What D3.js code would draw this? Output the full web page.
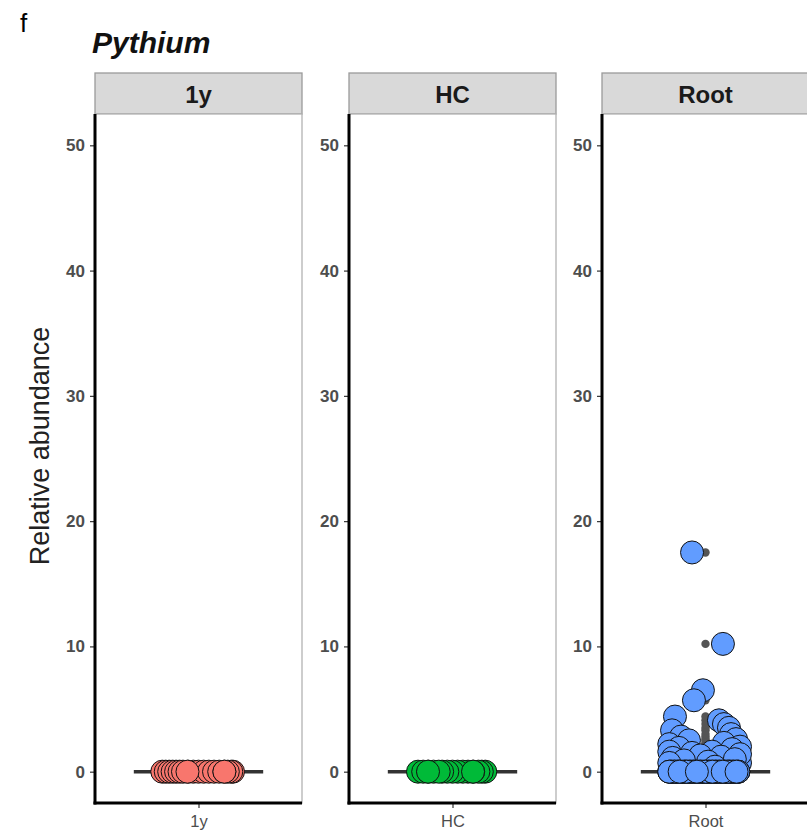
<!DOCTYPE html>
<html>
<head>
<meta charset="utf-8">
<script src="https://cdn.jsdelivr.net/npm/d3@7"></script>
<style>
  html, body { margin: 0; padding: 0; background: #fff; }
  svg { display: block; font-family: "Liberation Sans", Arial, sans-serif; }
</style>
</head>
<body>
<svg id="chart" width="807" height="831"></svg>
<script>
// Facet categories and their fill colours
const categories = ["1y", "HC", "Root"];
const fills = ["#F8766D", "#00BA38", "#619CFF"];

// Y axis ticks (relative abundance, %)
const yTicks = [0, 10, 20, 30, 40, 50];

// Relative abundance per sample, with its horizontal jitter (in category units)
const values1y = [0, 0, 0, 0, 0, 0, 0, 0, 0, 0, 0, 0, 0, 0, 0, 0, 0, 0, 0, 0];
const jitter1y = [-0.21, -0.19, -0.17, -0.15, -0.13, -0.11, -0.09, -0.06, -0.03, 0.0,
                  0.03, 0.06, 0.09, 0.12, 0.20, 0.19, 0.17, 0.15, -0.064, 0.15];

const valuesHC = [0, 0, 0, 0, 0, 0, 0, 0, 0, 0, 0, 0, 0, 0, 0, 0, 0];
const jitterHC = [0.19, 0.17, 0.15, 0.12, 0.09, 0.06, 0.03, 0.0, -0.03, -0.06,
                  -0.20, -0.17, -0.14, -0.11, -0.08, -0.142, 0.119];

const valuesRoot = [
  0.3, 0.2, 0.4, 0.7, 0.5, 0.3, 0.2, 0.6,
  0, 0, 0, 0, 0, 0, 0, 0, 0, 0, 0, 0, 0, 0, 0, 0, 0, 0, 0, 0,
  0, 0, 0, 0, 0, 0, 0, 0, 0, 0, 0, 0, 0, 0, 0, 0, 0, 0, 0, 0,
  0, 0, 0, 0, 0, 0, 0, 0, 0, 0, 0, 0, 0, 0, 0, 0, 0, 0, 0, 0,
  17.5, 10.2, 6.5, 5.7, 4.4, 4.1, 3.8, 3.5, 3.3, 3.0, 2.8, 2.6, 2.5, 2.3, 2.2,
  2.0, 1.9, 1.8, 1.6, 1.6, 1.5, 1.4, 1.3, 1.2, 1.1, 1.0, 0.9, 0.8, 0.7, 0.4,
  0, 0, 0, 0, 0, 0, 0, 0, 0, 0, 0, 0, 0, 0, 0, 0, 0, 0, 0, 0,
  0, 0, 0, 0, 0, 0, 0, 0, 0, 0, 0, 0, 0, 0, 0, 0, 0, 0, 0, 0,
  0, 0, 0, 0, 0, 0, 0, 0, 0, 0, 0, 0, 0, 0, 0, 0, 0, 0, 0, 0,
  0, 0, 0, 0
];
const jitterRoot = [
  0.19, -0.20, -0.17, 0.20, 0.125, -0.10, -0.02, -0.06,
  -0.20, -0.15, -0.10, -0.05, 0.00, 0.05, 0.10, 0.15, 0.19, -0.18, -0.12, -0.07, 0.02, 0.08, 0.13, 0.17, -0.02, -0.16, 0.06, 0.11,
  -0.21, -0.13, -0.04, 0.04, 0.14, 0.18, -0.09, 0.01, 0.09, -0.17, -0.11, 0.16, -0.06, 0.07, 0.12, -0.19, 0.03, -0.14, 0.19, -0.01,
  -0.20, -0.08, 0.00, 0.10, 0.15, -0.16, 0.05, -0.12, 0.17, -0.03, 0.08, -0.18, 0.13, -0.06, 0.02, 0.18, -0.10, 0.11, -0.15, 0.06,
  -0.078, 0.101, -0.015, -0.067, -0.177, 0.078, 0.107, 0.136, -0.194, 0.148, -0.142, 0.177, -0.096, 0.107, -0.21,
  0.20, -0.154, 0.154, -0.21, 0.038, -0.078, 0.20, -0.03, 0.09, -0.19, 0.17, -0.125, 0.015, -0.21, 0.055,
  -0.20, -0.16, -0.12, -0.08, -0.04, 0.00, 0.04, 0.08, 0.12, 0.16, 0.19, -0.18, -0.14, -0.10, -0.06, -0.02, 0.02, 0.06, 0.10, 0.14,
  -0.21, -0.17, -0.13, -0.09, -0.05, -0.01, 0.03, 0.07, 0.11, 0.15, 0.18, -0.19, -0.15, -0.11, -0.07, -0.03, 0.01, 0.05, 0.09, 0.13,
  -0.20, -0.12, -0.03, 0.06, 0.14, 0.19, -0.16, -0.07, 0.02, 0.11, 0.17, -0.18, -0.09, 0.00, 0.08, 0.16, -0.21, -0.11, 0.04, 0.13,
  -0.15, 0.10, -0.05, 0.18
];

const facets = [
  { name: categories[0], fill: fills[0], values: values1y, jitter: jitter1y },
  { name: categories[1], fill: fills[1], values: valuesHC, jitter: jitterHC },
  { name: categories[2], fill: fills[2], values: valuesRoot, jitter: jitterRoot }
];

// ---- layout ----
const svg = d3.select("#chart");
const panelLefts = [95, 349, 602];
const panelW = 207;
const stripTop = 73, panelTop = 114, panelBottom = 803;
const boxWidth = 0.75;
const pointR = 11.5;

const y = d3.scaleLinear().domain([-2.5, 52.5]).range([panelBottom, panelTop]);

// Panel label and title
svg.append("text").attr("x", 20).attr("y", 32)
  .attr("font-size", 26).attr("fill", "#000").text("f");
svg.append("text").attr("x", 92).attr("y", 53)
  .attr("font-size", 30).attr("font-weight", "bold").attr("font-style", "italic")
  .attr("fill", "#111").text("Pythium");

// Y axis title
svg.append("text")
  .attr("transform", `translate(49,446) rotate(-90)`)
  .attr("text-anchor", "middle")
  .attr("font-size", 27).attr("fill", "#222")
  .text("Relative abundance");

function boxStats(vals) {
  const s = vals.slice().sort(d3.ascending);
  const q1 = d3.quantileSorted(s, 0.25), med = d3.quantileSorted(s, 0.5), q3 = d3.quantileSorted(s, 0.75);
  const iqr = q3 - q1;
  const lo = q1 - 1.5 * iqr, hi = q3 + 1.5 * iqr;
  const inside = s.filter(v => v >= lo && v <= hi);
  return { q1, med, q3, wlo: d3.min(inside), whi: d3.max(inside), out: s.filter(v => v < lo || v > hi) };
}

facets.forEach((f, i) => {
  const x0 = panelLefts[i];
  const x = d3.scaleLinear().domain([0.4, 1.6]).range([x0, x0 + panelW]);
  const g = svg.append("g");

  // strip
  g.append("rect").attr("x", x0).attr("y", stripTop).attr("width", panelW).attr("height", panelTop - stripTop)
    .attr("fill", "#d9d9d9").attr("stroke", "#9a9a9a").attr("stroke-width", 1.3);
  g.append("text").attr("x", x(1)).attr("y", panelTop - 11)
    .attr("text-anchor", "middle").attr("font-size", 24).attr("font-weight", "bold")
    .attr("fill", "#1a1a1a").text(f.name);

  // panel border (top / right)
  g.append("rect").attr("x", x0).attr("y", panelTop).attr("width", panelW).attr("height", panelBottom - panelTop)
    .attr("fill", "#fff").attr("stroke", "#b3b3b3").attr("stroke-width", 1.3);

  // boxplot
  const st = boxStats(f.values);
  const bx0 = x(1 - boxWidth / 2), bx1 = x(1 + boxWidth / 2);
  g.append("line").attr("x1", x(1)).attr("x2", x(1)).attr("y1", y(st.q3)).attr("y2", y(st.whi))
    .attr("stroke", "#333").attr("stroke-width", 1.5);
  g.append("line").attr("x1", x(1)).attr("x2", x(1)).attr("y1", y(st.q1)).attr("y2", y(st.wlo))
    .attr("stroke", "#333").attr("stroke-width", 1.5);
  g.append("rect").attr("x", bx0).attr("y", y(st.q3)).attr("width", bx1 - bx0)
    .attr("height", Math.max(0, y(st.q1) - y(st.q3)))
    .attr("fill", "#fff").attr("stroke", "#333").attr("stroke-width", 1.5);
  g.append("line").attr("x1", bx0).attr("x2", bx1).attr("y1", y(st.med)).attr("y2", y(st.med))
    .attr("stroke", "#333").attr("stroke-width", 3.5);
  g.selectAll("circle.out").data(st.out).join("circle").attr("class", "out")
    .attr("cx", x(1)).attr("cy", d => y(d)).attr("r", 4.2).attr("fill", "#555");

  // jittered samples
  g.selectAll("circle.pt").data(f.values.map((v, k) => ({ v, j: f.jitter[k] })))
    .join("circle").attr("class", "pt")
    .attr("cx", d => x(1 + d.j)).attr("cy", d => y(d.v)).attr("r", pointR)
    .attr("fill", f.fill).attr("stroke", "#111").attr("stroke-width", 1);

  // y axis
  const yAxis = g.append("g").attr("transform", `translate(${x0},0)`)
    .call(d3.axisLeft(y).tickValues(yTicks).tickSize(5).tickPadding(5));
  yAxis.select(".domain").remove();
  yAxis.selectAll(".tick line").attr("stroke", "#333").attr("stroke-width", 1.2);
  yAxis.selectAll(".tick text").attr("font-size", 17).attr("font-weight", "bold")
    .attr("fill", "#4d4d4d").attr("font-family", "Liberation Sans, Arial, sans-serif");

  // x axis
  const xAxis = g.append("g").attr("transform", `translate(0,${panelBottom})`)
    .call(d3.axisBottom(x).tickValues([1]).tickFormat(() => f.name).tickSize(5).tickPadding(7));
  xAxis.select(".domain").remove();
  xAxis.selectAll(".tick line").attr("stroke", "#333").attr("stroke-width", 1.2);
  xAxis.selectAll(".tick text").attr("font-size", 16.5)
    .attr("fill", "#4d4d4d").attr("font-family", "Liberation Sans, Arial, sans-serif");

  // axis lines (left and bottom)
  g.append("line").attr("x1", x0).attr("x2", x0).attr("y1", panelTop).attr("y2", panelBottom + 1.5)
    .attr("stroke", "#000").attr("stroke-width", 3);
  g.append("line").attr("x1", x0 - 1.5).attr("x2", x0 + panelW).attr("y1", panelBottom).attr("y2", panelBottom)
    .attr("stroke", "#000").attr("stroke-width", 3);
});
</script>
</body>
</html>
